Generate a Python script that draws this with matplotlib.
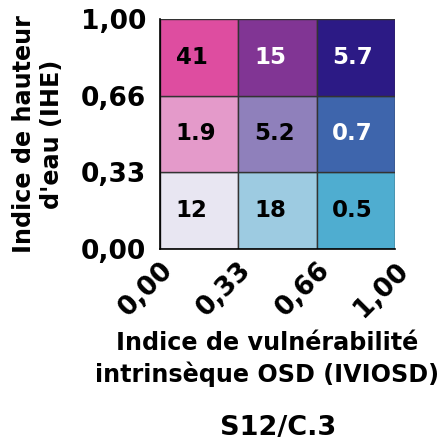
import matplotlib
matplotlib.use("Agg")
import matplotlib.pyplot as plt
import numpy as np

# rows from bottom (IHE low) to top (IHE high); columns IVIOSD low -> high
values = [[12, 18, 0.5],
          [1.9, 5.2, 0.7],
          [41, 15, 5.7]]
labels = [["12", "18", "0.5"],
          ["1.9", "5.2", "0.7"],
          ["41", "15", "5.7"]]
colors = [["#E8E6F2", "#9DCBE1", "#4FADD0"],
          ["#E49ACA", "#8F80BB", "#3E65AC"],
          ["#DE4DA0", "#813594", "#2C1A85"]]
text_colors = [["black", "black", "black"],
               ["black", "black", "white"],
               ["black", "white", "white"]]
tick_labels = ["0,00", "0,33", "0,66", "1,00"]

fig = plt.figure(figsize=(4.40, 4.41), dpi=100)
ax = fig.add_axes([160/440, 1 - 249/441, 235/440, 230/441])

for i in range(3):
    for j in range(3):
        ax.add_patch(plt.Rectangle((j, i), 1, 1, facecolor=colors[i][j],
                                   edgecolor="#333333", linewidth=1))
        ax.text(j + 0.2, i + 0.5, labels[i][j], ha="left", va="center",
                fontsize=16.5, fontweight="bold", color=text_colors[i][j])

ax.set_xlim(0, 3)
ax.set_ylim(0, 3)
ax.set_xticks(range(4))
ax.set_yticks(range(4))
ax.set_xticklabels(tick_labels, rotation=45, ha="right", rotation_mode="anchor",
                   fontsize=19, fontweight="bold")
ax.set_yticklabels(tick_labels, fontsize=19, fontweight="bold")
ax.tick_params(axis="y", length=0, pad=10)
ax.tick_params(axis="x", length=0, pad=6)
for s in ["top", "right"]:
    ax.spines[s].set_visible(False)
ax.spines["left"].set_linewidth(1.2)
ax.spines["bottom"].set_linewidth(1.2)

ax.set_xlabel("Indice de vulnérabilité\nintrinsèque OSD (IVIOSD)", fontsize=17.2,
              fontweight="bold", linespacing=1.3)
ax.xaxis.set_label_coords((267 - 160) / 235, (249 - 331) / 230)
ax.set_ylabel("Indice de hauteur\nd'eau (IHE)", fontsize=17.2, fontweight="bold",
              labelpad=12)

fig.text(278/440, 1 - 428/441, "S12/C.3", ha="center", va="center",
         fontsize=19.5, fontweight="bold")

fig.savefig("out.png", dpi=100)
